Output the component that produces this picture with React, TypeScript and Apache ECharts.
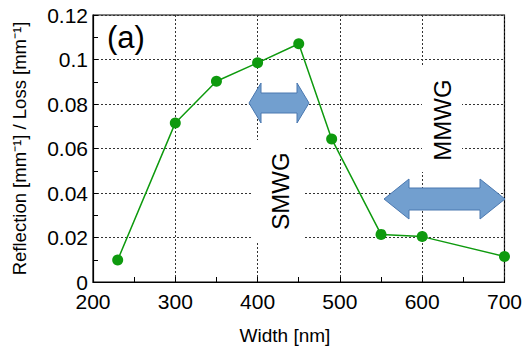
import React, { useEffect, useRef } from "react";
import * as echarts from "echarts";

const widths = [230, 300, 350, 400, 450, 490, 550, 600, 700];
const values = [0.0099, 0.0715, 0.0902, 0.0985, 0.1071, 0.0643, 0.0214, 0.0204, 0.0115];
const yTicks = ["0", "0.02", "0.04", "0.06", "0.08", "0.1", "0.12"];
const xTicks = ["200", "300", "400", "500", "600", "700"];

const GREEN = "#0e9a0e";
const ARROW_FILL = "#729fcf";
const ARROW_STROKE = "#4a78b0";
const FONT = "Liberation Sans, Arial, sans-serif";

function arrow(x0: number, x1: number, cy: number, head: number, halfH: number, halfS: number) {
  return [
    [x0, cy],
    [x0 + head, cy - halfH],
    [x0 + head, cy - halfS],
    [x1 - head, cy - halfS],
    [x1 - head, cy - halfH],
    [x1, cy],
    [x1 - head, cy + halfH],
    [x1 - head, cy + halfS],
    [x0 + head, cy + halfS],
    [x0 + head, cy + halfH],
  ];
}

export default function App() {
  const ref = useRef<HTMLDivElement>(null);
  useEffect(() => {
    if (!ref.current) return;
    const chart = echarts.init(ref.current, null, { renderer: "svg" });
    const grid = { left: 93, right: 20, top: 15, bottom: 65 };
    const splitLine = { show: true, lineStyle: { color: "#333", type: [2, 2] as any, width: 1 } };
    chart.setOption({
      animation: false,
      grid: { ...grid, show: true, borderColor: "#000", borderWidth: 1.2, backgroundColor: "#fff" },
      xAxis: {
        type: "value",
        min: 200,
        max: 700,
        interval: 100,
        axisLine: { lineStyle: { color: "#000", width: 1.2 } },
        axisTick: { inside: true, length: 5, lineStyle: { color: "#000" } },
        minorTick: { show: true, splitNumber: 2, length: 5, lineStyle: { color: "#000" } },
        splitLine,
        axisLabel: {
          color: "#000",
          fontSize: 21,
          fontFamily: FONT,
          margin: 9,
          formatter: (v: number) => xTicks[xTicks.indexOf(String(v))] ?? String(v),
        },
      },
      yAxis: {
        type: "value",
        min: 0,
        max: 0.12,
        interval: 0.02,
        axisLine: { show: true, lineStyle: { color: "#000", width: 1.2 } },
        axisTick: { show: true, inside: true, length: 5, lineStyle: { color: "#000" } },
        minorTick: { show: true, splitNumber: 2, length: 5, lineStyle: { color: "#000" } },
        splitLine,
        axisLabel: {
          color: "#000",
          fontSize: 21,
          fontFamily: FONT,
          margin: 5,
          formatter: (v: number) => yTicks[Math.round(v / 0.02)] ?? String(v),
        },
        name: "Reflection [mm\u207B\u00B9] / Loss [mm\u207B\u00B9]",
        nameLocation: "middle",
        nameRotate: 90,
        nameGap: 64,
        nameTextStyle: { color: "#000", fontSize: 18.5, fontFamily: FONT },
      },
      series: [
        {
          type: "line",
          data: widths.map((w, i) => [w, values[i]]),
          symbol: "circle",
          symbolSize: 11,
          itemStyle: { color: GREEN },
          lineStyle: { color: GREEN, width: 1.5 },
          z: 3,
        },
      ],
      graphic: [
        { type: "rect", z: 10, shape: { x: 252, y: 140, width: 53, height: 101 }, style: { fill: "#fff" } },
        { type: "rect", z: 10, shape: { x: 422, y: 67, width: 40, height: 105 }, style: { fill: "#fff" } },
        {
          type: "polygon",
          z: 11,
          shape: { points: arrow(249, 309, 103, 12, 20, 10) },
          style: { fill: ARROW_FILL, stroke: ARROW_STROKE, lineWidth: 1 },
        },
        {
          type: "polygon",
          z: 11,
          shape: { points: arrow(384, 505, 199, 25, 20, 11) },
          style: { fill: ARROW_FILL, stroke: ARROW_STROKE, lineWidth: 1 },
        },
        {
          type: "text",
          z: 12,
          x: 280,
          y: 191,
          rotation: Math.PI / 2,
          style: { text: "SMWG", font: `24px ${FONT}`, fill: "#000", align: "center", verticalAlign: "middle" },
        },
        {
          type: "text",
          z: 12,
          x: 442,
          y: 120,
          rotation: Math.PI / 2,
          style: { text: "MMWG", font: `24px ${FONT}`, fill: "#000", align: "center", verticalAlign: "middle" },
        },
        {
          type: "text",
          z: 12,
          x: 107,
          y: 37,
          style: { text: "(a)", font: `31px ${FONT}`, fill: "#000", align: "left", verticalAlign: "middle" },
        },
        {
          type: "text",
          z: 12,
          x: 285,
          y: 335,
          style: { text: "Width [nm]", font: `19px ${FONT}`, fill: "#000", align: "center", verticalAlign: "middle" },
        },
      ],
    });
    return () => chart.dispose();
  }, []);
  return <div ref={ref} style={{ width: 525, height: 347, position: "absolute", left: 0, top: 0 }} />;
}
